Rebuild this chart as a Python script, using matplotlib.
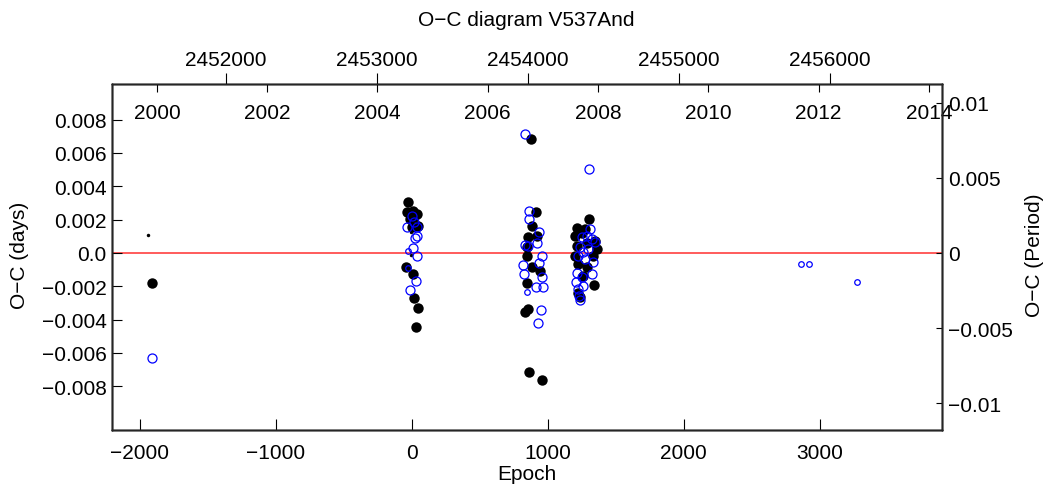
import matplotlib
matplotlib.use('Agg')
import matplotlib.pyplot as plt

plt.rcParams['font.family'] = ['Liberation Sans', 'DejaVu Sans']
plt.rcParams['font.size'] = 15

# linear ephemeris used for the JD / year axes
t0 = 2453232.0
period = 0.9013

# primary minima (black, filled)
prim_epoch = [-1907, -30, -37, 12, 37, 49, -12, 0, 20, -44, 7, 17, 49, 29,
              880, 911, 886, 857, 923, 845, 845, 882, 943, 845, 832, 857, 864, 960,
              1305, 1212, 1273, 1200, 1347, 1212, 1359, 1200, 1334, 1224, 1286,
              1261, 1342, 1224, 1237, 1290, 1250]
prim_oc = [-0.0018, 0.00308, 0.00244, 0.00254, 0.00234, 0.00164, 0.00204, 0.00154, 0.00214,
           -0.00086, -0.00126, -0.0027, -0.00332, -0.00446,
           0.00684, 0.00244, 0.0016, 0.00094, 0.00104, 0.00034, -0.00016, -0.00086,
           -0.00106, -0.00182, -0.00352, -0.00336, -0.00716, -0.00762,
           0.00204, 0.0015, 0.00144, 0.00104, 0.00074, 0.00044, 0.00024, -0.00016,
           -0.00016, -0.00066, -0.00086, -0.00136, -0.00192, -0.0024, -0.00266, 0.0006, 0.0012]

# primary minima with low weight (small dots)
prim_lw_epoch = [-1936, -7, -7]
prim_lw_oc = [0.00108, 0.00128, -0.00012]

# secondary minima (blue, open)
sec_epoch = [-1907, 4, 17, -37, 41, 37, 25, 12, 41, 31, -12,
             832, 862, 862, 938, 923, 832, 857, 955, 938, 820, 826, 955, 913, 967,
             948, 930,
             1305, 1310, 1249, 1322, 1286, 1347, 1237, 1298, 1261, 1224, 1334,
             1273, 1212, 1322, 1249, 1208, 1261, 1224, 1237, 1228]
sec_oc = [-0.0063, 0.00224, 0.00184, 0.00158, 0.00154, 0.00104, 0.00088, 0.00028,
          -0.00016, -0.00168, -0.00222,
          0.00714, 0.00254, 0.00204, 0.00128, 0.0006, 0.00048, 0.00044, -0.0002,
          -0.0006, -0.0007, -0.00126, -0.00142, -0.00202, -0.00202, -0.0034, -0.00422,
          0.00504, 0.00144, 0.00094, 0.00084, 0.00104, 0.00064, 0.00034, 0.00024,
          0.00004, -0.00016, -0.00056, -0.00036, -0.0012, -0.00126, -0.00146,
          -0.00176, -0.00196, -0.00216, -0.0028, -0.0026]

# secondary minima with low weight (small circles)
sec_lw_epoch = [-25, -25, 845, 2865, 2921, 3274]
sec_lw_oc = [0.0001, -0.0009, -0.00232, -0.00066, -0.00066, -0.00176]

xlim = (-2200, 3900)
ylim = (-0.01064, 0.01014)

epoch_ticks = [-2000, -1000, 0, 1000, 2000, 3000]
days_ticks = [-0.008, -0.006, -0.004, -0.002, 0.0, 0.002, 0.004, 0.006, 0.008]
days_labels = ['\u22120.008', '\u22120.006', '\u22120.004', '\u22120.002', '0.0',
               '0.002', '0.004', '0.006', '0.008']
phase_ticks = [-0.01, -0.005, 0, 0.005, 0.01]
phase_labels = ['\u22120.01', '\u22120.005', '0', '0.005', '0.01']
jd_ticks = [2452000, 2453000, 2454000, 2455000, 2456000]
years = [2000, 2002, 2004, 2006, 2008, 2010, 2012, 2014]

fig = plt.figure(figsize=(10.47, 4.89), dpi=100)
ax = fig.add_axes([0.1073, 0.118, 0.7927, 0.7082])

ax.axhline(0, color='#ff4040', lw=1.2, zorder=1)
ax.plot(prim_epoch, prim_oc, 'o', color='black', ms=7.5, mew=0, zorder=2)
ax.plot(prim_lw_epoch, prim_lw_oc, 'o', color='black', ms=2.5, mew=0, zorder=2)
ax.plot(sec_epoch, sec_oc, 'o', mfc='none', mec='blue', ms=6.5, mew=0.9, zorder=3)
ax.plot(sec_lw_epoch, sec_lw_oc, 'o', mfc='none', mec='blue', ms=4, mew=0.9, zorder=3)

ax.set_xlim(xlim)
ax.set_ylim(ylim)
ax.set_xticks(epoch_ticks)
ax.set_yticks(days_ticks)
ax.set_yticklabels(days_labels)
ax.tick_params(axis='x', direction='in', length=8, pad=9, top=False)
ax.tick_params(axis='y', direction='in', length=7, pad=4, right=False)

# right axis: O-C in units of the period
axr = ax.twinx()
axr.set_ylim(ylim[0] / period, ylim[1] / period)
axr.set_yticks(phase_ticks)
axr.set_yticklabels(phase_labels)
axr.tick_params(axis='y', direction='in', length=4, pad=4)

# top axis: Julian date
jd_lim = (t0 + period * xlim[0], t0 + period * xlim[1])
axj = ax.twiny()
axj.set_xlim(jd_lim)
axj.set_xticks(jd_ticks)
axj.set_xticklabels([str(j) for j in jd_ticks])
axj.tick_params(axis='x', direction='out', length=8, pad=3)

# calendar years, labels inside the frame
axy = ax.twiny()
axy.set_xlim(jd_lim)
axy.set_xticks([2451544.5 + (y - 2000) * 365.25 for y in years])
axy.set_xticklabels([str(y) for y in years])
axy.tick_params(axis='x', direction='in', length=6, pad=-27.5)

for a in (ax, axr, axj, axy):
    for s in a.spines.values():
        s.set_color('#262626')
        s.set_linewidth(1.0)

fig.text(0.503, 0.958, 'O\u2212C diagram V537And', ha='center', va='center')
fig.text(0.503, 0.030, 'Epoch', ha='center', va='center')
fig.text(0.019, 0.478, 'O\u2212C (days)', ha='center', va='center', rotation=90)
fig.text(0.988, 0.478, 'O\u2212C (Period)', ha='center', va='center', rotation=90)

fig.savefig('out.png', dpi=100)
